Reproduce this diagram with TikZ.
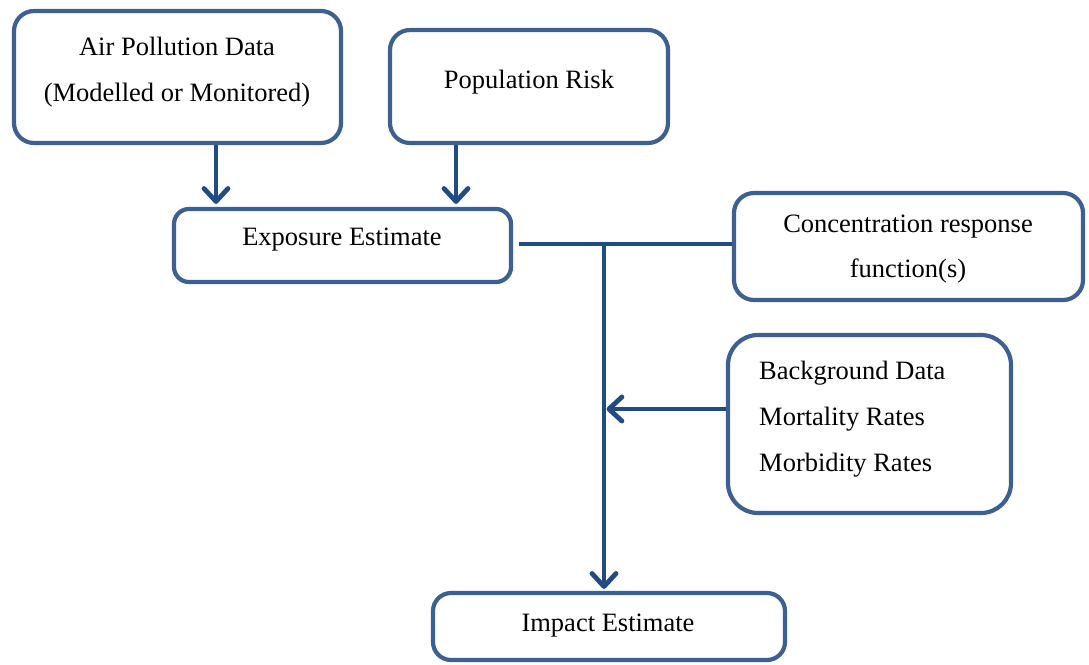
\documentclass[tikz,border=0pt]{standalone}
\usepackage{fontspec}
\setmainfont{Liberation Serif}
\usetikzlibrary{arrows.meta}
\definecolor{boxc}{RGB}{61,96,146}
\definecolor{arrc}{RGB}{32,76,130}
\tikzset{
  box/.style={draw=boxc, line width=4.2pt, fill=white, inner sep=0pt, rounded corners=20pt},
  lbl/.style={anchor=base, inner sep=0pt, font=\fontsize{26.5pt}{30pt}\selectfont, text=black},
  conn/.style={draw=arrc, line width=4.8pt},
  flow/.style={conn, -{Straight Barb[length=13pt,width=24pt,round]}},
}
\begin{document}
\begin{tikzpicture}[x=1pt, y=-1pt]
\useasboundingbox (0,0) rectangle (1089,664);

% boxes
\node[box, minimum width=327pt, minimum height=132pt] (air) at (177.5,77) {};
\node[box, minimum width=278pt, minimum height=113pt] (pop) at (529,86.5) {};
\node[box, minimum width=337pt, minimum height=73pt, rounded corners=15pt] (exp) at (342.5,245.5) {};
\node[box, minimum width=349pt, minimum height=107pt] (conc) at (908.5,246.5) {};
\node[box, minimum width=283pt, minimum height=178pt, rounded corners=30pt] (bg) at (869.5,424) {};
\node[box, minimum width=352pt, minimum height=67pt, rounded corners=18pt] (imp) at (609,626.5) {};

% texts
\node[lbl] (airA) at (177,55) {Air Pollution Data};
\node[lbl] (airB) at (177,101) {(Modelled or Monitored)};
\node[lbl] (popT) at (529,88) {Population Risk};
\node[lbl] (expT) at (342,245) {Exposure Estimate};
\node[lbl] (concA) at (908,232) {Concentration response};
\node[lbl] (concB) at (908,277) {function(s)};
\node[lbl, anchor=base west] (bgA) at (759,379) {Background Data};
\node[lbl, anchor=base west] (bgB) at (759,425) {Mortality Rates};
\node[lbl, anchor=base west] (bgC) at (759,471) {Morbidity Rates};
\node[lbl] (impT) at (608,631) {Impact Estimate};

% connectors
\coordinate (j) at (604,244);
\coordinate (airout) at ([xshift=38.5pt]air.south);
\coordinate (popout) at ([xshift=-73pt]pop.south);
\coordinate (bgin) at ([yshift=15pt]bg.west);

\draw[flow, shorten >=3pt] (airout) -- (airout |- exp.north);
\draw[flow, shorten >=3pt] (popout) -- (popout |- exp.north);
\draw[conn] ([xshift=6pt]exp.east |- j) -- (conc.west |- j);
\draw[flow, shorten >=2pt] ([yshift=2.4pt]j) -- (j |- imp.north);
\draw[flow, shorten >=2.5pt] (bgin) -- (j |- bgin);
\end{tikzpicture}
\end{document}
